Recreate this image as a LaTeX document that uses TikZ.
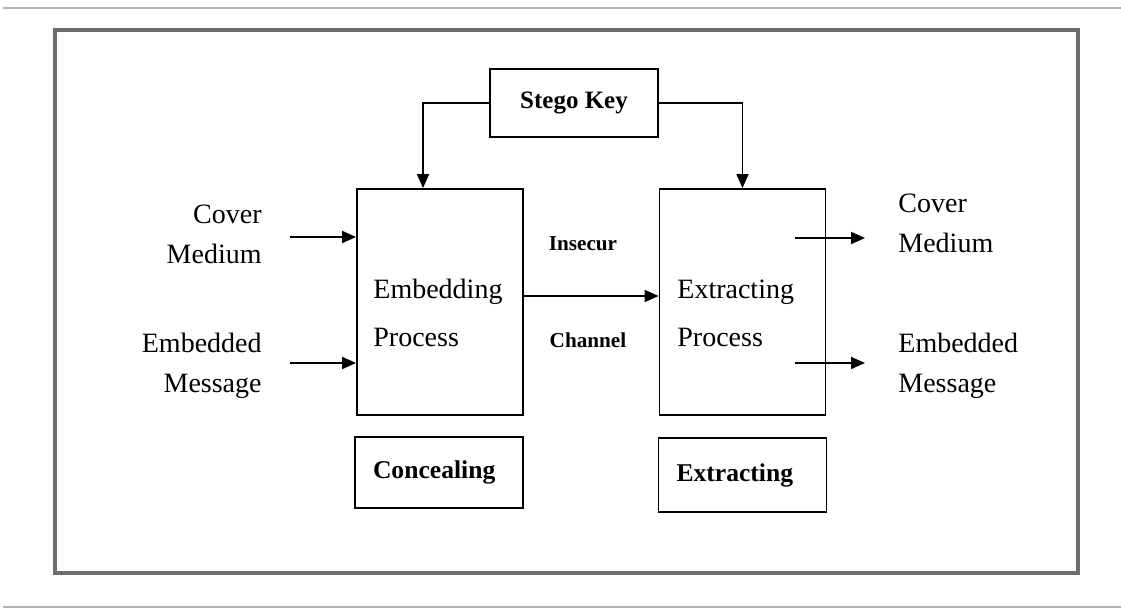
\documentclass[tikz,border=0pt]{standalone}
\usepackage{fontspec}
\setmainfont{Liberation Serif}
\usepackage{xcolor}
\usepackage{tikz}
\usetikzlibrary{positioning, arrows.meta, calc}
\definecolor{rulegray}{HTML}{B4B4B4}
\definecolor{framegray}{HTML}{6E6E6E}

\tikzset{
  procbox/.style={draw, line width=0.9pt, minimum width=83pt, minimum height=113pt, inner sep=0pt},
  tagbox/.style={draw, line width=0.9pt, text width=66pt, align=left, inner xsep=9pt, inner ysep=0pt,
                 font=\bfseries\fontsize{12.8}{15}\selectfont},
  boxtext/.style={anchor=west, inner sep=0pt, align=left, font=\fontsize{14}{24}\selectfont},
  side/.style={inner sep=0pt, font=\fontsize{14}{20}\selectfont},
  chan/.style={inner sep=0pt, font=\bfseries\fontsize{10.6}{12}\selectfont},
  flow/.style={-{Triangle[length=7pt,width=6pt]}, line width=0.9pt},
}

\begin{document}
\begin{tikzpicture}[x=0.5pt, y=-0.5pt]
    \useasboundingbox (0,0) rectangle (1121,610);
    % page rules and frame
    \draw[rulegray, line width=1pt] (3,8) -- (1121,8);
    \draw[rulegray, line width=1pt] (3,607) -- (1121,607);
    \draw[framegray, line width=1.6pt] (55,30) rectangle (1078,573);

    % boxes
    \node[draw, line width=0.9pt, minimum width=84pt, minimum height=34pt,
          font=\bfseries\fontsize{12.5}{15}\selectfont] (key) at (574,103) {Stego Key};
    \node[procbox] (embed) at (440,302) {};
    \node[procbox] (extract) at (742.5,302) {};
    \node[tagbox, minimum height=35.5pt] (conceal) at (439,472.5) {Concealing};
    \node[tagbox, minimum height=37pt] (extracttag) at (742.5,475) {Extracting};
    \node[boxtext] (embedtxt) at (373,313) {Embedding\\Process};
    \node[boxtext] (extracttxt) at (677,313) {Extracting\\Process};

    % labels
    \node[side, anchor=east, align=right] (coverin) at (262,234) {Cover\\Medium};
    \node[side, anchor=east, align=right] (msgin) at (262,366) {Embedded\\Message};
    \node[side, anchor=west, align=left] (coverout) at (898,223) {Cover\\Medium};
    \node[side, anchor=west, align=left] (msgout) at (898,366) {Embedded\\Message};
    \node[chan] (insecur) at (583,244) {Insecur};
    \node[chan] (channel) at (588,340) {Channel};

    % free arrow ends
    \coordinate (cvin) at (290,237);
    \coordinate (msin) at (290,363);
    \coordinate (cvout) at (795,238);
    \coordinate (msout) at (795,363);

    \draw[flow] (key.west) -| ([xshift=-8.5pt]embed.north);
    \draw[flow] (key.east) -| (extract.north);
    \draw[flow] (cvin) -- (cvin -| embed.west);
    \draw[flow] (msin) -- (msin -| embed.west);
    \draw[flow] ([yshift=3pt]embed.east) -- ([yshift=3pt]extract.west);
    \draw[flow] (cvout) -- ++(70,0);
    \draw[flow] (msout) -- ++(70,0);
\end{tikzpicture}
\end{document}
